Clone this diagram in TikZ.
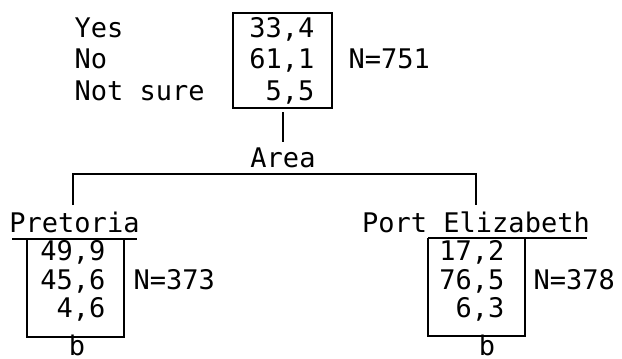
\documentclass[tikz,border=0pt]{standalone}
\usepackage{fontspec}
\setmonofont{DejaVu Sans Mono}
\begin{document}
\begin{tikzpicture}[x=1pt,y=-1pt,line width=1.2pt,
  every node/.style={font=\fontsize{27}{32}\selectfont\ttfamily,inner sep=0pt},
  lab/.style={anchor=base west},
  val/.style={anchor=base east}]
\useasboundingbox (0,0) rectangle (622,359);

% whole sample
\node[lab] (yes) at (74,37.5) {Yes};
\node[lab] (no) at (74,68.5) {No};
\node[lab] (ns) at (74,100) {Not sure};
\node[val] (tv1) at (315,37.5) {33,4};
\node[val] (tv2) at (315,68.5) {61,1};
\node[val] (tv3) at (315,100) {5,5};
\node[lab] (tn) at (348,68.5) {N=751};
\coordinate (TA) at (233,13);
\coordinate (TB) at (332,13);
\coordinate (TC) at (332,108);
\coordinate (TD) at (233,108);
\draw (TA) -- (TB) -- (TC) -- (TD) -- cycle;

% split on area
\node[anchor=base] (area) at (283,167) {Area};
\coordinate (s0) at (283,112);
\coordinate (s1) at (283,142);
\draw (s0) -- (s1);
\coordinate (L0) at (73,205);
\coordinate (L1) at (73,174);
\coordinate (R1) at (476,174);
\coordinate (R0) at (476,205);
\draw (L0) -- (L1) -- (R1) -- (R0);

% Pretoria
\node[anchor=base] (pre) at (74.5,232) {Pretoria};
\node[val] (pv1) at (106,260) {49,9};
\node[val] (pv2) at (106,289) {45,6};
\node[val] (pv3) at (106,317) {4,6};
\node[lab] (pn) at (133,289) {N=373};
\node[anchor=base] (pb) at (77,355) {b};
\coordinate (PU) at (12,239);
\coordinate (PA) at (27,239);
\coordinate (PB) at (124,239);
\coordinate (PV) at (137,239);
\coordinate (PC) at (124,337);
\coordinate (PD) at (27,337);
\draw (PU) -- (PV);
\draw (PA) -- (PD) -- (PC) -- (PB);

% Port Elizabeth
\node[anchor=base] (pe) at (476,232) {Port Elizabeth};
\node[val] (ev1) at (505,260) {17,2};
\node[val] (ev2) at (505,289) {76,5};
\node[val] (ev3) at (505,317) {6,3};
\node[lab] (en) at (533,289) {N=378};
\node[anchor=base] (eb) at (487,355) {b};
\coordinate (EA) at (428,238);
\coordinate (EB) at (525,238);
\coordinate (EU) at (587,238);
\coordinate (EC) at (525,336);
\coordinate (ED) at (428,336);
\draw (EA) -- (EU);
\draw (EA) -- (ED) -- (EC) -- (EB);

\end{tikzpicture}
\end{document}
